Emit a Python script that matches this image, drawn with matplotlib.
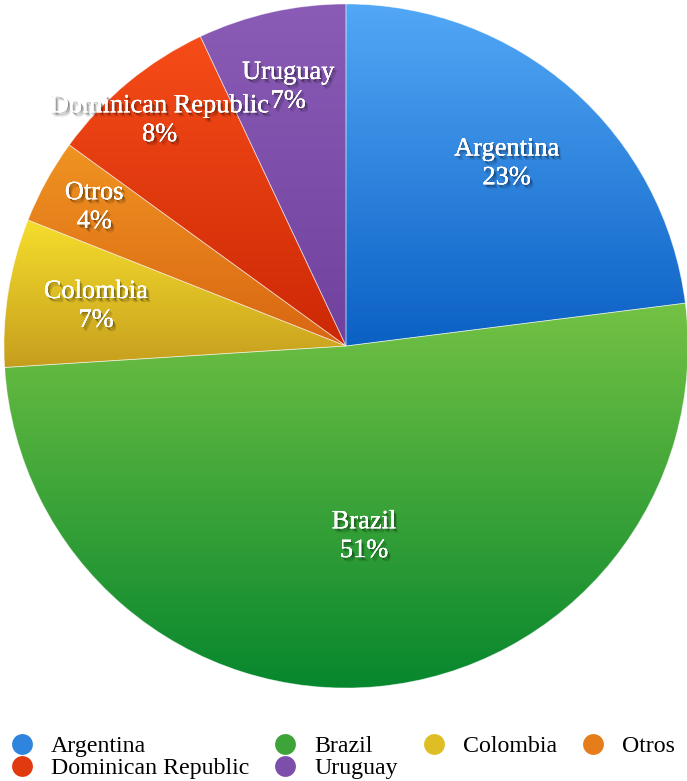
import matplotlib
matplotlib.use("Agg")
import matplotlib.pyplot as plt
import numpy as np
from matplotlib.colors import LinearSegmentedColormap, to_rgb
from matplotlib import patheffects as pe
from matplotlib.lines import Line2D

# Share of total by country (percent), clockwise from 12 o'clock
countries = ["Argentina", "Brazil", "Colombia", "Otros", "Dominican Republic", "Uruguay"]
shares = [23, 51, 7, 4, 8, 7]

# Vertical gradient per slice: colour at the top and at the bottom of each wedge
top_colors = ["#52a8f6", "#74c244", "#f6de2c", "#f09422", "#f64c18", "#8a5cb6"]
bottom_colors = ["#0b60c4", "#07872e", "#c69e1e", "#d86612", "#cc2806", "#70429e"]

# Radial position of each slice label, as a fraction of the radius
label_radius = [0.71, 0.56, 0.74, 0.84, 0.855, 0.775]

W, H = 687, 781
fig = plt.figure(figsize=(W / 100, H / 100), dpi=100)
ax = fig.add_axes([0, 0, 1, 1])

cx, cy, R = 346, H - 346, 342
wedges, _ = ax.pie(shares, startangle=90, counterclock=False,
                   center=(cx, cy), radius=R,
                   colors=top_colors,
                   wedgeprops=dict(edgecolor=(1, 1, 1, 0.45), linewidth=0.6))

grad = np.linspace(0, 1, 256)[:, None]
for w, c0, c1 in zip(wedges, top_colors, bottom_colors):
    ext = w.get_path().get_extents()
    cmap = LinearSegmentedColormap.from_list("g", [to_rgb(c0), to_rgb(c1)])
    im = ax.imshow(grad, extent=(ext.x0, ext.x1, ext.y0, ext.y1), origin="upper",
                   cmap=cmap, aspect="auto", interpolation="bilinear", zorder=1)
    im.set_clip_path(w)
    w.set_facecolor("none")
    w.set_zorder(2)

# Soft drop shadow under the white slice labels
shadow = [pe.withSimplePatchShadow(offset=(0.8, -1.0), shadow_rgbFace="black", alpha=0.22),
          pe.withSimplePatchShadow(offset=(1.6, -2.0), shadow_rgbFace="black", alpha=0.22),
          pe.withSimplePatchShadow(offset=(2.4, -3.0), shadow_rgbFace="black", alpha=0.14),
          pe.Normal()]

for w, name, val, rf in zip(wedges, countries, shares, label_radius):
    ang = np.deg2rad((w.theta1 + w.theta2) / 2)
    x = cx + rf * R * np.cos(ang)
    y = cy + rf * R * np.sin(ang)
    ax.text(x, y, f"{name}\n{val}%", ha="center", va="center", color="white",
            fontsize=19, family="Liberation Serif", linespacing=1.4,
            path_effects=shadow, zorder=5)

ax.set_xlim(0, W)
ax.set_ylim(0, H)
ax.set_aspect("equal")
ax.axis("off")

# Legend laid out row by row: 4 columns, filled in row-major order
order = [0, 4, 1, 5, 2, 3]
mid_colors = [tuple((np.array(to_rgb(a)) + np.array(to_rgb(b))) / 2)
              for a, b in zip(top_colors, bottom_colors)]
handles = [Line2D([], [], linestyle="none", marker="o", markersize=15,
                  markerfacecolor=mid_colors[i], markeredgecolor="none") for i in order]
labels = [countries[i] for i in order]
fig.legend(handles, labels, ncol=4, loc="lower left",
           bbox_to_anchor=(10.0 / W, 2 / H), frameon=False,
           prop=dict(family="Liberation Serif", size=17.2),
           handlelength=1.0, handletextpad=0.72, columnspacing=1.0,
           labelspacing=0.0, borderpad=0, borderaxespad=0)

fig.savefig("out.png", dpi=100)
